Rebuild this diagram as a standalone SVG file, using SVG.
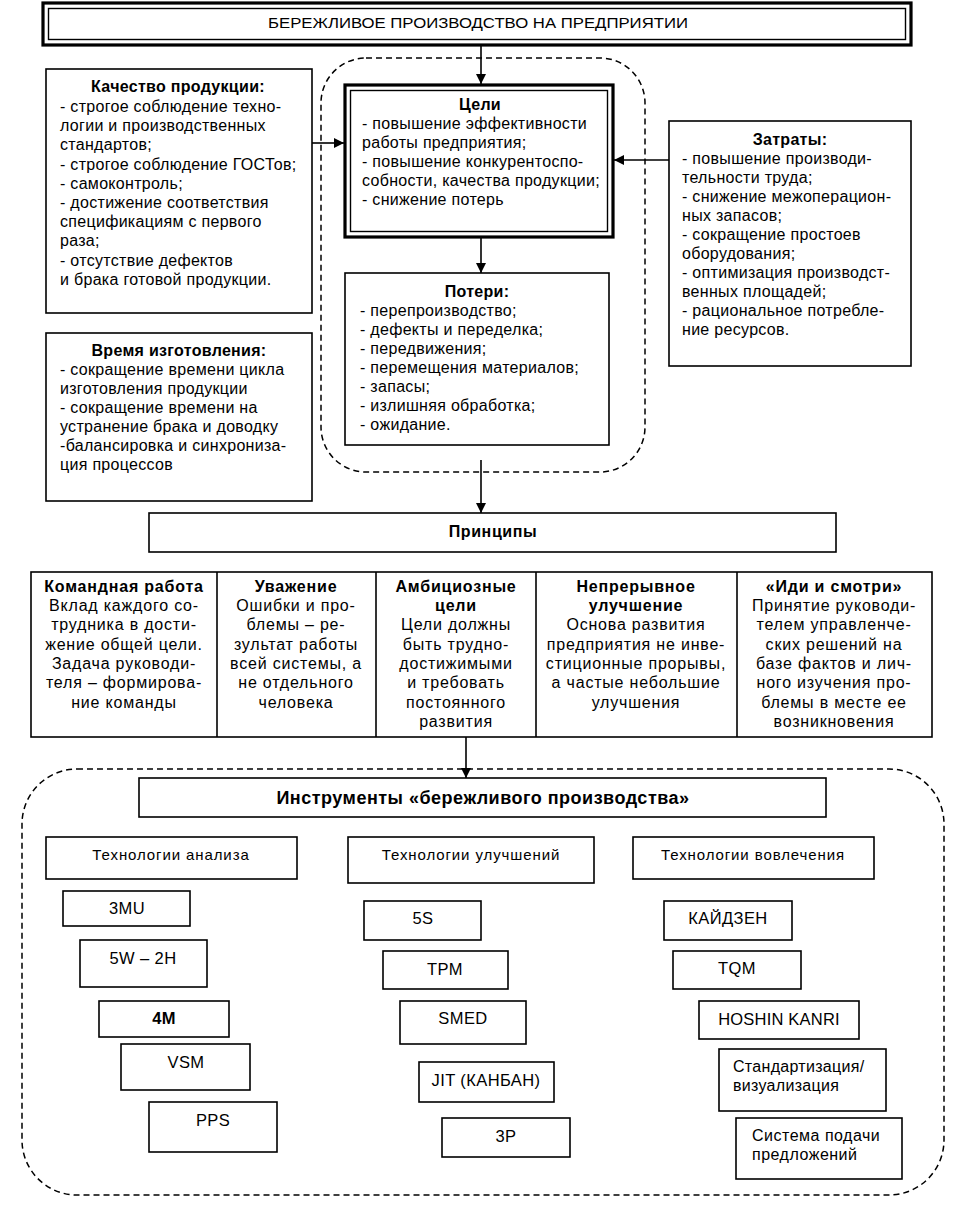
<svg xmlns="http://www.w3.org/2000/svg" width="967" height="1208" viewBox="0 0 967 1208">
<style>
text{font-family:"Liberation Sans",Arial,sans-serif;font-size:16px;letter-spacing:0.3px;fill:#000}
.b{font-weight:bold}
.c{text-anchor:middle}
.p text{letter-spacing:0.8px}
.h{font-size:15px;letter-spacing:0.9px}
.t16{font-size:16.5px;letter-spacing:0.4px}
.box{fill:#fff;stroke:#000;stroke-width:1.6}
.thick{fill:none;stroke:#000;stroke-width:3.2}
.thin{fill:none;stroke:#000;stroke-width:1.4}
.dash{fill:none;stroke:#000;stroke-width:1.5;stroke-dasharray:6 4}
.ln{stroke:#000;stroke-width:1.6;fill:none}
</style>
<defs>
<marker id="ah" viewBox="0 0 10 10" refX="10" refY="5" markerWidth="10" markerHeight="10" markerUnits="userSpaceOnUse" orient="auto">
<path d="M0,0 L10,5 L0,10 z" fill="#000"/>
</marker>
</defs>
<rect width="967" height="1208" fill="#fff"/>

<g id="dashed-frames">
<rect class="dash" x="321" y="58" width="324" height="414" rx="45" ry="45"/>
<rect class="dash" x="22" y="769" width="922" height="426" rx="55" ry="55"/>
</g>

<g id="title">
<rect class="thick" x="43" y="3" width="868" height="42"/>
<rect class="thin" x="48.5" y="8.5" width="857" height="31"/>
<text class="c" x="478" y="28" style="font-size:15px;letter-spacing:0" textLength="420" lengthAdjust="spacingAndGlyphs">БЕРЕЖЛИВОЕ ПРОИЗВОДСТВО НА ПРЕДПРИЯТИИ</text>
</g>

<g id="goals">
<rect x="344" y="84" width="270" height="154" fill="#fff" stroke="none"/>
<rect class="thick" x="345" y="85" width="268" height="152"/>
<rect class="thin" x="350.5" y="90.5" width="257" height="141"/>
<text class="b c" x="480" y="110">Цели</text>
<text x="362" y="129">- повышение эффективности</text>
<text x="362" y="148">работы предприятия;</text>
<text x="362" y="167">-  повышение конкурентоспо-</text>
<text x="362" y="186">собности, качества продукции;</text>
<text x="362" y="205">- снижение потерь</text>
</g>

<g id="losses">
<rect class="box" x="345" y="273" width="264" height="172"/>
<text class="b c" x="477" y="297">Потери:</text>
<text x="360" y="316">- перепроизводство;</text>
<text x="360" y="335">- дефекты и переделка;</text>
<text x="360" y="354">- передвижения;</text>
<text x="360" y="373">- перемещения материалов;</text>
<text x="360" y="392">- запасы;</text>
<text x="360" y="411">- излишняя обработка;</text>
<text x="360" y="430">- ожидание.</text>
</g>

<g id="quality">
<rect class="box" x="46" y="69" width="266" height="244"/>
<text class="b c" x="178" y="92">Качество продукции:</text>
<text x="60" y="112">- строгое соблюдение техно-</text>
<text x="60" y="131">логии и производственных</text>
<text x="60" y="150">стандартов;</text>
<text x="60" y="170">- строгое соблюдение ГОСТов;</text>
<text x="60" y="189">- самоконтроль;</text>
<text x="60" y="208">- достижение соответствия</text>
<text x="60" y="227">спецификациям с первого</text>
<text x="60" y="246">раза;</text>
<text x="60" y="266">- отсутствие дефектов</text>
<text x="60" y="285">и брака готовой продукции.</text>
</g>

<g id="costs">
<rect class="box" x="669" y="121" width="242" height="245"/>
<text class="b c" x="790" y="145">Затраты:</text>
<text x="682" y="164">- повышение производи-</text>
<text x="682" y="183">тельности труда;</text>
<text x="682" y="202">- снижение межоперацион-</text>
<text x="682" y="221">ных запасов;</text>
<text x="682" y="240">- сокращение простоев</text>
<text x="682" y="259">оборудования;</text>
<text x="682" y="278">- оптимизация производст-</text>
<text x="682" y="297">венных площадей;</text>
<text x="682" y="316">- рациональное потребле-</text>
<text x="682" y="335">ние ресурсов.</text>
</g>

<g id="time">
<rect class="box" x="46" y="333" width="266" height="168"/>
<text class="b c" x="179" y="356">Время изготовления:</text>
<text x="60" y="375">- сокращение времени цикла</text>
<text x="60" y="394">изготовления продукции</text>
<text x="60" y="413">- сокращение времени на</text>
<text x="60" y="432">устранение брака и доводку</text>
<text x="60" y="451">-балансировка и синхрониза-</text>
<text x="60" y="470">ция процессов</text>
</g>

<g id="principles">
<rect class="box" x="149" y="513" width="687" height="39"/>
<text class="b c" x="493" y="537" style="letter-spacing:0.6px">Принципы</text>
</g>

<g id="principles-row">
<rect class="box" x="31" y="572" width="901" height="165"/>
<line class="ln" x1="217" y1="572" x2="217" y2="737"/>
<line class="ln" x1="376" y1="572" x2="376" y2="737"/>
<line class="ln" x1="536" y1="572" x2="536" y2="737"/>
<line class="ln" x1="737" y1="572" x2="737" y2="737"/>
</g>

<g id="p-team" class="p">
<text class="b c" x="124" y="592">Командная работа</text>
<text class="c" x="124" y="611">Вклад каждого со-</text>
<text class="c" x="124" y="630">трудника в дости-</text>
<text class="c" x="124" y="650">жение общей цели.</text>
<text class="c" x="124" y="669">Задача руководи-</text>
<text class="c" x="124" y="688">теля – формирова-</text>
<text class="c" x="124" y="708">ние команды</text>
</g>
<g id="p-respect" class="p">
<text class="b c" x="296" y="592">Уважение</text>
<text class="c" x="296" y="611">Ошибки и про-</text>
<text class="c" x="296" y="630">блемы – ре-</text>
<text class="c" x="296" y="650">зультат работы</text>
<text class="c" x="296" y="669">всей системы, а</text>
<text class="c" x="296" y="688">не отдельного</text>
<text class="c" x="296" y="708">человека</text>
</g>
<g id="p-ambitious" class="p">
<text class="b c" x="456" y="592">Амбициозные</text>
<text class="b c" x="456" y="611">цели</text>
<text class="c" x="456" y="630">Цели должны</text>
<text class="c" x="456" y="650">быть трудно-</text>
<text class="c" x="456" y="669">достижимыми</text>
<text class="c" x="456" y="688">и требовать</text>
<text class="c" x="456" y="708">постоянного</text>
<text class="c" x="456" y="727">развития</text>
</g>
<g id="p-continuous" class="p">
<text class="b c" x="636" y="592">Непрерывное</text>
<text class="b c" x="636" y="611">улучшение</text>
<text class="c" x="636" y="630">Основа развития</text>
<text class="c" x="636" y="650">предприятия не инве-</text>
<text class="c" x="636" y="669">стиционные прорывы,</text>
<text class="c" x="636" y="688">а частые небольшие</text>
<text class="c" x="636" y="708">улучшения</text>
</g>
<g id="p-gemba" class="p">
<text class="b c" x="834" y="592">«Иди и смотри»</text>
<text class="c" x="834" y="611">Принятие руководи-</text>
<text class="c" x="834" y="630">телем управленче-</text>
<text class="c" x="834" y="650">ских решений на</text>
<text class="c" x="834" y="669">базе фактов и лич-</text>
<text class="c" x="834" y="688">ного изучения про-</text>
<text class="c" x="834" y="708">блемы в месте ее</text>
<text class="c" x="834" y="727">возникновения</text>
</g>

<g id="tools-title">
<rect class="box" x="139" y="778" width="687" height="39"/>
<text class="b c" x="483" y="804" style="font-size:18px;letter-spacing:0.5px">Инструменты «бережливого производства»</text>
</g>

<g id="h-analysis">
<rect class="box" x="46" y="837" width="251" height="42"/>
<text class="c h" x="171" y="860">Технологии анализа</text>
</g>
<g id="h-improve">
<rect class="box" x="348" y="837" width="246" height="46"/>
<text class="c h" x="471" y="860">Технологии улучшений</text>
</g>
<g id="h-involve">
<rect class="box" x="633" y="837" width="241" height="42"/>
<text class="c h" x="753" y="860">Технологии вовлечения</text>
</g>

<g id="t-3mu"><rect class="box" x="63" y="891" width="127" height="35"/><text class="c t16" x="127" y="914">3MU</text></g>
<g id="t-5w2h"><rect class="box" x="80" y="940" width="127" height="47"/><text class="c t16" x="143" y="964">5W – 2H</text></g>
<g id="t-4m"><rect class="box" x="99" y="1001" width="130" height="36"/><text class="c t16 b" x="164" y="1024">4M</text></g>
<g id="t-vsm"><rect class="box" x="121" y="1044" width="129" height="46"/><text class="c t16" x="186" y="1068">VSM</text></g>
<g id="t-pps"><rect class="box" x="149" y="1102" width="128" height="50"/><text class="c t16" x="213" y="1126">PPS</text></g>

<g id="t-5s"><rect class="box" x="364" y="901" width="117" height="39"/><text class="c t16" x="423" y="924">5S</text></g>
<g id="t-tpm"><rect class="box" x="383" y="951" width="125" height="38"/><text class="c t16" x="445" y="975">TPM</text></g>
<g id="t-smed"><rect class="box" x="400" y="1001" width="126" height="43"/><text class="c t16" x="463" y="1024">SMED</text></g>
<g id="t-jit"><rect class="box" x="419" y="1062" width="135" height="40"/><text class="c t16" x="486" y="1086">JIT (КАНБАН)</text></g>
<g id="t-3p"><rect class="box" x="442" y="1118" width="128" height="39"/><text class="c t16" x="506" y="1142">3P</text></g>

<g id="t-kaizen"><rect class="box" x="664" y="901" width="128" height="39"/><text class="c t16" x="728" y="924">КАЙДЗЕН</text></g>
<g id="t-tqm"><rect class="box" x="673" y="951" width="128" height="38"/><text class="c t16" x="737" y="974">TQM</text></g>
<g id="t-hoshin"><rect class="box" x="699" y="1001" width="160" height="38"/><text class="c t16" x="779" y="1025" style="letter-spacing:0.2px">HOSHIN KANRI</text></g>
<g id="t-std"><rect class="box" x="719" y="1049" width="167" height="62"/><text x="733" y="1072">Стандартизация/</text><text x="733" y="1091">визуализация</text></g>
<g id="t-sugg"><rect class="box" x="736" y="1118" width="166" height="61"/><text x="752" y="1141" style="letter-spacing:0.5px">Система подачи</text><text x="752" y="1160" style="letter-spacing:0.5px">предложений</text></g>

<g id="connectors">
<line class="ln" x1="481" y1="45" x2="481" y2="84" marker-end="url(#ah)"/>
<line class="ln" x1="481" y1="238" x2="481" y2="273" marker-end="url(#ah)"/>
<line class="ln" x1="312" y1="143" x2="344" y2="143" marker-end="url(#ah)"/>
<line class="ln" x1="669" y1="160" x2="614" y2="160" marker-end="url(#ah)"/>
<line class="ln" x1="481" y1="460" x2="481" y2="513" marker-end="url(#ah)"/>
<line class="ln" x1="466" y1="737" x2="466" y2="778" marker-end="url(#ah)"/>
</g>
</svg>
